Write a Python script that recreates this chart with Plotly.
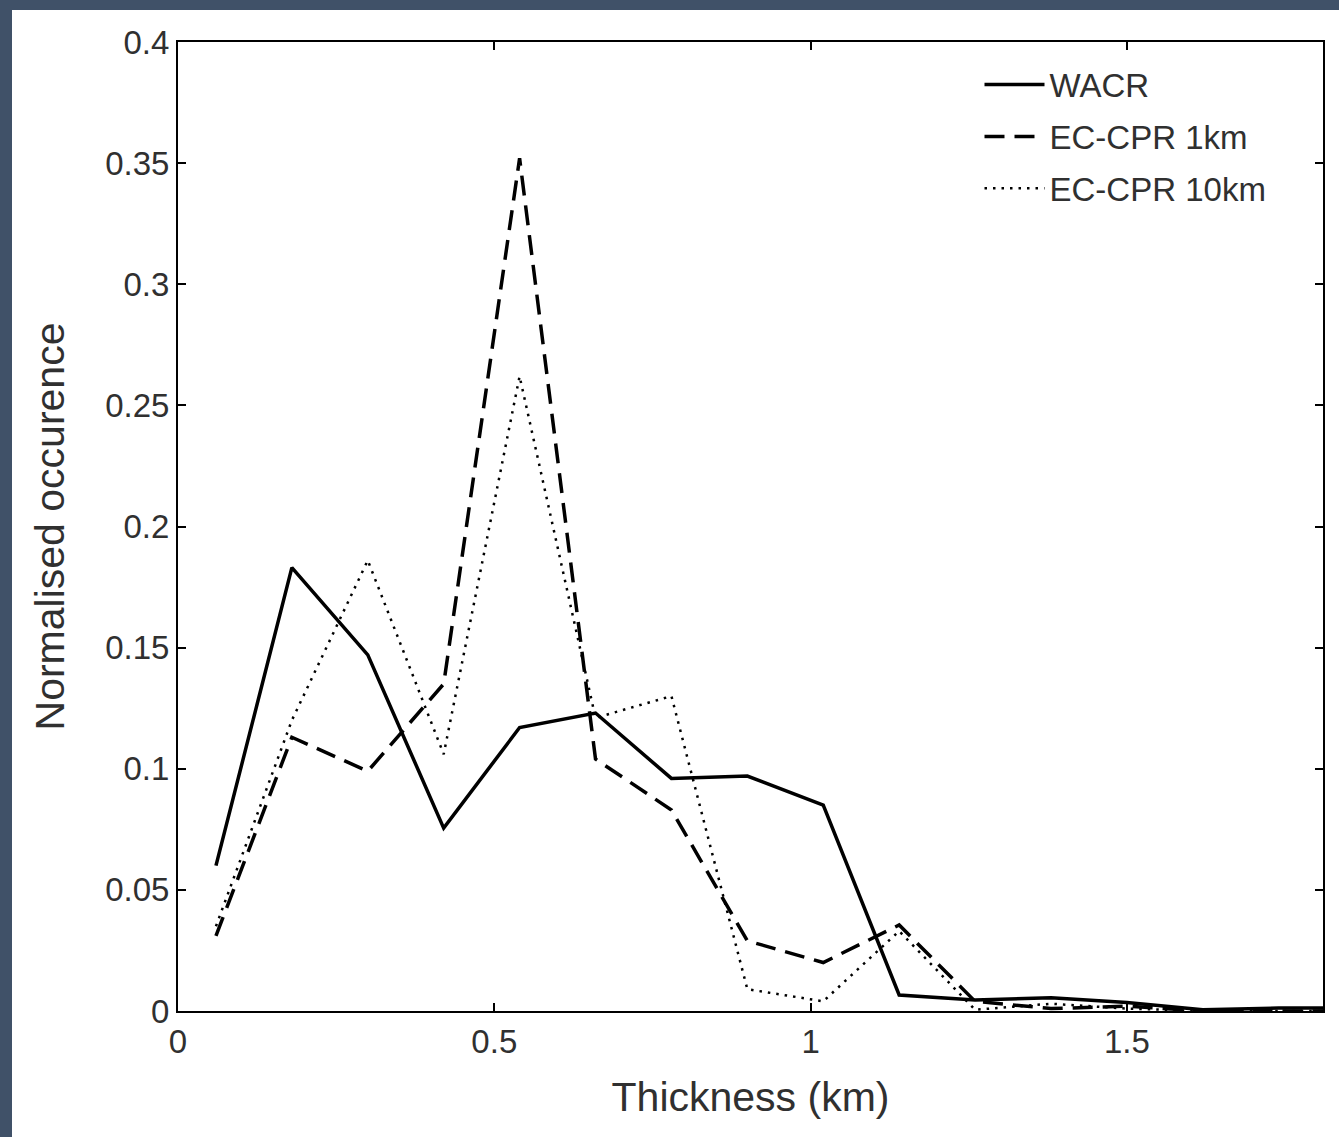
import plotly.graph_objects as go

thickness = [0.06, 0.18, 0.30, 0.42, 0.54, 0.66, 0.78, 0.90, 1.02, 1.14, 1.26, 1.38, 1.50, 1.62, 1.74, 1.86]
wacr = [0.060, 0.183, 0.147, 0.0755, 0.117, 0.123, 0.096, 0.097, 0.085, 0.0066, 0.0045, 0.0055, 0.0035, 0.0005, 0.0012, 0.0012]
cpr_1km = [0.031, 0.113, 0.099, 0.135, 0.352, 0.104, 0.083, 0.029, 0.020, 0.0355, 0.004, 0.001, 0.002, 0.0, 0.0, 0.0]
cpr_10km = [0.035, 0.120, 0.186, 0.106, 0.262, 0.121, 0.130, 0.009, 0.004, 0.033, 0.0005, 0.003, 0.001, 0.0, 0.0, 0.0]

series_names = ["WACR", "EC-CPR 1km", "EC-CPR 10km"]
x_ticks = [0, 0.5, 1, 1.5]
y_ticks = [0, 0.05, 0.1, 0.15, 0.2, 0.25, 0.3, 0.35, 0.4]
y_tick_text = ["0", "0.05", "0.1", "0.15", "0.2", "0.25", "0.3", "0.35", "0.4"]
x_tick_text = ["0", "0.5", "1", "1.5"]

FONT = "Liberation Sans, Arial, sans-serif"
INK = "#303030"

fig = go.Figure()
styles = [
    dict(color="black", width=3.5, dash="solid"),
    dict(color="black", width=3.5, dash="20px,10px"),
    dict(color="black", width=2.5, dash="2.5px,6px"),
]
for i, (name, ys) in enumerate(zip(series_names, [wacr, cpr_1km, cpr_10km])):
    fig.add_trace(go.Scatter(
        x=thickness, y=ys, mode="lines", name=name,
        line=styles[i], legendgroup=name, cliponaxis=True,
    ))

W, H = 1339, 1137
L, R, T, B = 178, 16, 42, 126
pw, ph = W - L - R, H - T - B

fig.add_shape(type="rect", xref="paper", yref="paper",
              x0=(12 - L) / pw, x1=(W + 10 - L) / pw,
              y0=-(H + 10 - T - ph) / ph, y1=(ph + T - 10) / ph,
              fillcolor="white", line=dict(width=0), layer="below")

axis_common = dict(
    showgrid=False, zeroline=False, showline=True, linecolor="black", linewidth=2,
    mirror="allticks", ticks="inside", ticklen=8, tickwidth=1.5, tickcolor="black",
    tickfont=dict(family=FONT, size=33, color=INK),
)

fig.update_layout(
    width=W, height=H,
    margin=dict(l=L, r=R, t=T, b=B, pad=0),
    paper_bgcolor="#405168",
    plot_bgcolor="white",
    font=dict(family=FONT, color=INK),
    xaxis=dict(range=[0, 1.81], tickvals=x_ticks, ticktext=x_tick_text,
               title=dict(text="Thickness (km)", font=dict(family=FONT, size=41, color=INK), standoff=24),
               **axis_common),
    yaxis=dict(range=[0, 0.4], tickvals=y_ticks, ticktext=y_tick_text,
               title=dict(text="Normalised occurence", font=dict(family=FONT, size=41, color=INK), standoff=28),
               **axis_common),
    legend=dict(x=0.70, y=0.985, xanchor="left", yanchor="top",
                bgcolor="rgba(0,0,0,0)", borderwidth=0,
                font=dict(family=FONT, size=33, color=INK),
                tracegroupgap=6, itemwidth=60),
    showlegend=True,
)

fig.write_html("out.html", config={"displayModeBar": False},
               post_script="document.body.style.margin='0';document.body.style.padding='0';")
